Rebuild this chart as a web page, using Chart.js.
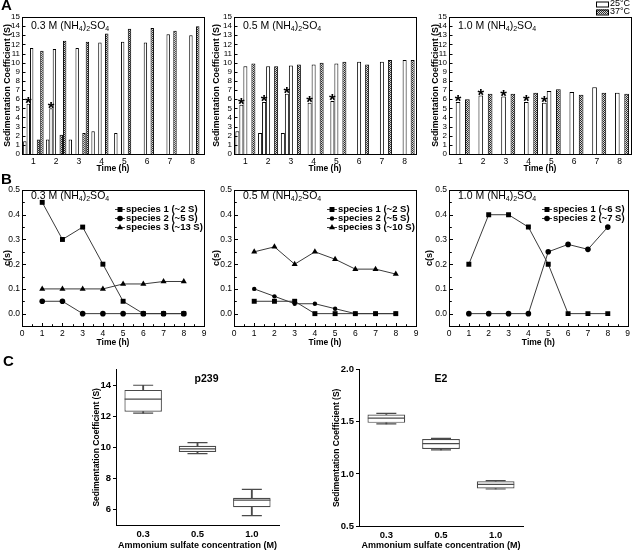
<!DOCTYPE html>
<html>
<head>
<meta charset="utf-8">
<title>Sedimentation coefficients</title>
<script src="https://cdn.jsdelivr.net/npm/chart.js@4.4.1/dist/chart.umd.min.js"></script>
<style>
html,body{margin:0;padding:0;background:#fff;}
#fig{position:relative;width:633px;height:552px;overflow:hidden;background:#fff;}
#fig canvas{position:absolute;}
</style>
</head>
<body>
<div id="fig">
<canvas id="a1"></canvas><canvas id="a2"></canvas><canvas id="a3"></canvas>
<canvas id="b1"></canvas><canvas id="b2"></canvas><canvas id="b3"></canvas>
<canvas id="c1"></canvas><canvas id="c2"></canvas>
</div>
<script>
// ================= DATA =================
const hours = [1, 2, 3, 4, 5, 6, 7, 8];
const concentrations = ['0.3', '0.5', '1.0'];
const tempLabels = ['25°C', '37°C'];

// Panel A, 0.3 M (bar columns, left to right inside each hour)
const a03_25C_p1 = [1.4, 1.6, 1.6, 2.5, 2.3, null, null, null];
const a03_25C_p2 = [5.5, 5.0, null, null, null, null, null, null];
const a03_25C_p3 = [11.6, 11.5, 11.6, 12.2, 12.3, 12.2, 13.1, 13.0];
const a03_37C_p0 = [null, null, null, null, null, null, null, null];
const a03_37C_p1 = [1.6, 2.1, 2.3, 13.2, 13.7, 13.8, 13.5, 14.0];
const a03_37C_p2 = [11.3, 12.4, 12.3, null, null, null, null, null];
const a03_star_p2 = [1, 1, 0, 0, 0, 0, 0, 0];

// Panel A, 0.5 M
const a05_25C_p1 = [2.5, 2.3, 2.3, null, null, null, null, null];
const a05_25C_p2 = [5.4, 5.7, 6.6, 5.6, 5.8, null, null, null];
const a05_25C_p3 = [9.6, 9.6, 9.7, 9.8, 9.9, 10.1, 10.1, 10.3];
const a05_37C_p0 = [null, null, null, null, null, null, null, null];
const a05_37C_p1 = [9.9, 9.6, 9.8, 10.0, 10.1, 9.8, 10.3, 10.3];
const a05_star_p2 = [1, 1, 1, 1, 1, 0, 0, 0];

// Panel A, 1.0 M
const a10_25C_p1 = [null, null, null, null, 5.6, null, null, null];
const a10_25C_p2 = [5.7, 6.4, 6.3, 5.7, 6.9, 6.8, 7.3, 6.7];
const a10_37C_p0 = [null, null, null, null, null, null, null, null];
const a10_37C_p1 = [6.0, 6.6, 6.6, 6.7, 7.1, 6.5, 6.7, 6.6];
const a10_star_p1 = [0, 0, 0, 0, 1, 0, 0, 0];
const a10_star_p2 = [1, 1, 1, 1, 0, 0, 0, 0];

// Panel B, c(s) of each species
const bTicksX = [0, 1, 2, 3, 4, 5, 6, 7, 8, 9];
const bTicksY = [0, 0.1, 0.2, 0.3, 0.4, 0.5];
const b03_s1 = [0.45, 0.30, 0.35, 0.20, 0.05, 0, 0, 0];
const b03_s2 = [0.05, 0.05, 0, 0, 0, 0, 0, 0];
const b03_s3 = [0.10, 0.10, 0.10, 0.10, 0.12, 0.12, 0.13, 0.13];
const b03_names = ['species 1 (~2 S)', 'species 2 (~5 S)', 'species 3 (~13 S)'];

const b05_s1 = [0.05, 0.05, 0.05, 0, 0, 0, 0, 0];
const b05_s2 = [0.10, 0.07, 0.04, 0.04, 0.02, 0, 0, 0];
const b05_s3 = [0.25, 0.27, 0.20, 0.25, 0.22, 0.18, 0.18, 0.16];
const b05_names = ['species 1 (~2 S)', 'species 2 (~5 S)', 'species 3 (~10 S)'];

const b10_s1 = [0.20, 0.40, 0.40, 0.35, 0.20, 0, 0, 0];
const b10_s2 = [0, 0, 0, 0, 0.25, 0.28, 0.26, 0.35];
const b10_names = ['species 1 (~6 S)', 'species 2 (~7 S)'];

// Panel C, box plots
const p239_min = [12.2, 9.6, 5.6];
const p239_q1  = [12.3, 9.7, 6.15];
const p239_med = [13.1, 9.9, 6.6];
const p239_q3  = [13.7, 10.1, 6.75];
const p239_max = [14.0, 10.3, 7.3];
const p239_ticks = [6, 8, 10, 12, 14];

const e2_min = [1.48, 1.23, 0.855];
const e2_q1  = [1.49, 1.24, 0.86];
const e2_med = [1.535, 1.29, 0.90];
const e2_q3  = [1.57, 1.335, 0.93];
const e2_max = [1.58, 1.34, 0.935];
const e2_ticks = [0.5, 1.0, 1.5, 2.0];

// ================= HELPERS =================
const FONT = "'Liberation Sans', Arial, Helvetica, sans-serif";
Chart.defaults.font.family = FONT;
Chart.defaults.color = '#000';
Chart.defaults.animation = false;
Chart.defaults.events = [];
let UID = 0;

function makeHatch() {
  const p = document.createElement('canvas');
  p.width = 2; p.height = 2;
  const g = p.getContext('2d');
  g.fillStyle = '#d8d8d8'; g.fillRect(0, 0, 2, 2);
  g.fillStyle = '#2a2a2a';
  g.fillRect(0, 0, 1, 1); g.fillRect(1, 1, 1, 1);
  return g.createPattern(p, 'repeat');
}
const HATCH = makeHatch();

function place(id, box) {
  const c = document.getElementById(id);
  c.width = box.w; c.height = box.h;
  Object.assign(c.style, {left: box.l + 'px', top: box.t + 'px', width: box.w + 'px', height: box.h + 'px'});
  return c;
}
function fixedLayout(box, area) {
  return {
    padding: {left: 0, top: area.t - box.t, right: box.l + box.w - area.r, bottom: 0},
    yWidth: area.l - box.l,
    xHeight: box.t + box.h - area.b
  };
}

const framePlugin = {
  id: 'frame',
  afterDatasetsDraw(chart) {
    const {ctx, chartArea: a} = chart;
    ctx.save();
    ctx.strokeStyle = '#000'; ctx.lineWidth = 1;
    ctx.strokeRect(Math.round(a.left) + 0.5, Math.round(a.top) + 0.5,
                   Math.round(a.right - a.left), Math.round(a.bottom - a.top));
    ctx.restore();
  }
};

function inTicksPlugin(cfg) {
  return { id: 'inticks' + (UID++), afterDatasetsDraw(chart) {
    const {ctx, chartArea: a} = chart;
    ctx.save(); ctx.strokeStyle = '#000'; ctx.lineWidth = 1; ctx.beginPath();
    for (const axis of ['x', 'y']) {
      const c = cfg[axis]; if (!c) continue;
      const s = chart.scales[axis];
      const vals = s.ticks.map(t => t.value);
      const marks = vals.map(v => [v, c.len]);
      if (c.minor) for (let i = 0; i < vals.length - 1; i++) marks.push([(vals[i] + vals[i + 1]) / 2, c.len * 0.6]);
      for (const [v, len] of marks) {
        const p = Math.round(s.getPixelForValue(v)) + 0.5;
        if (axis === 'x') { ctx.moveTo(p, a.bottom); ctx.lineTo(p, a.bottom - len); }
        else { ctx.moveTo(a.left + 1, p); ctx.lineTo(a.left + 1 + len, p); }
      }
    }
    ctx.stroke(); ctx.restore();
  }};
}

function textPlugin(items) {
  return { id: 'texts' + (UID++), afterDraw(chart) {
    const ctx = chart.ctx; ctx.save();
    for (const it of items) {
      ctx.font = it.font; ctx.fillStyle = '#000';
      ctx.textAlign = it.align || 'left'; ctx.textBaseline = 'middle';
      ctx.fillText(it.text, it.x, it.y);
    }
    ctx.restore();
  }};
}

function formulaPlugin(conc, dx, dy) {
  return { id: 'formula' + (UID++), afterDraw(chart) {
    const {ctx, chartArea: a} = chart;
    const parts = [[conc + ' M (NH', 0], ['4', 1], [')', 0], ['2', 1], ['SO', 0], ['4', 1]];
    let x = a.left + dx; const y = a.top + dy;
    ctx.save(); ctx.fillStyle = '#000'; ctx.textAlign = 'left'; ctx.textBaseline = 'middle';
    for (const [t, sub] of parts) {
      ctx.font = (sub ? '7px ' : '10.5px ') + FONT;
      ctx.fillText(t, x, sub ? y + 3 : y);
      x += ctx.measureText(t).width;
    }
    ctx.restore();
  }};
}

const starPlugin = {
  id: 'stars',
  afterDatasetsDraw(chart) {
    const ctx = chart.ctx; ctx.save();
    ctx.font = 'bold 17px ' + FONT; ctx.textAlign = 'center'; ctx.textBaseline = 'middle'; ctx.fillStyle = '#000';
    chart.data.datasets.forEach((d, di) => {
      if (!d.stars) return;
      const meta = chart.getDatasetMeta(di);
      d.stars.forEach((f, i) => {
        if (!f) return;
        const el = meta.data[i];
        ctx.fillText('*', el.x, el.y + 0.5);
      });
    });
    ctx.restore();
  }
};

function tempLegendPlugin(x, y, rowH) {
  return { id: 'templeg' + (UID++), afterDraw(chart) {
    const ctx = chart.ctx; ctx.save();
    tempLabels.forEach((t, i) => {
      const yy = y + i * rowH;
      ctx.fillStyle = i ? HATCH : '#fff';
      ctx.fillRect(x, yy - 2.5, 12, 5);
      ctx.strokeStyle = '#000'; ctx.lineWidth = 1;
      ctx.strokeRect(x + 0.5, yy - 2.5 + 0.5, 12, 5);
      ctx.fillStyle = '#000'; ctx.font = '9px ' + FONT; ctx.textBaseline = 'middle'; ctx.textAlign = 'left';
      ctx.fillText(t, x + 14, yy);
    });
    ctx.restore();
  }};
}

function lineLegendPlugin(dx, dy, rowH) {
  return { id: 'lineleg' + (UID++), afterDraw(chart) {
    const {ctx, chartArea: a} = chart; ctx.save();
    chart.data.datasets.forEach((d, i) => {
      const x = a.left + dx, y = Math.round(a.top + dy + i * rowH) + 0.5;
      ctx.strokeStyle = d.borderColor; ctx.lineWidth = 1;
      ctx.beginPath(); ctx.moveTo(x, y); ctx.lineTo(x + 10, y); ctx.stroke();
      ctx.fillStyle = '#000';
      Chart.helpers.drawPoint(ctx, {pointStyle: d.pointStyle, radius: d.pointRadius, borderWidth: 0, rotation: 0}, x + 5, y);
      ctx.font = 'bold 9.5px ' + FONT; ctx.textBaseline = 'middle'; ctx.textAlign = 'left';
      ctx.fillText(d.label, x + 11, y);
    });
    ctx.restore();
  }};
}

// ================= PANEL A (bars) =================
function barPanel(id, box, area, cols, catPct, conc, yTitlePad, extra) {
  const L = fixedLayout(box, area);
  new Chart(place(id, box), {
    type: 'bar',
    data: {
      labels: hours,
      datasets: cols.map(c => ({
        label: c.label, data: c.values, stars: c.stars,
        backgroundColor: c.hatched ? HATCH : '#ffffff',
        borderColor: '#000', borderWidth: 1,
        barPercentage: 1, categoryPercentage: catPct
      }))
    },
    options: {
      responsive: false, animation: false,
      layout: {padding: L.padding},
      plugins: {legend: {display: false}, tooltip: {enabled: false}},
      scales: {
        x: {
          grid: {display: false, drawTicks: false}, border: {display: false},
          ticks: {font: {size: 8.5}, padding: 3, maxRotation: 0, autoSkip: false},
          title: {display: true, text: 'Time (h)', font: {size: 8.5, weight: 'bold'}, padding: {top: 0, bottom: 2}},
          afterFit(s) { s.height = L.xHeight; }
        },
        y: {
          min: 0, max: 15,
          grid: {display: false, drawTicks: false}, border: {display: false},
          ticks: {stepSize: 1, autoSkip: false, font: {size: 8}, padding: 2},
          title: {display: true, text: 'Sedimentation Coefficient (S)', font: {size: 8.8, weight: 'bold'}, padding: {top: yTitlePad, bottom: 0}},
          afterFit(s) { s.width = L.yWidth; }
        }
      }
    },
    plugins: [framePlugin, inTicksPlugin({y: {len: 2.5}}), starPlugin, formulaPlugin(conc, 9, 9)].concat(extra || [])
  });
}

const T25 = tempLabels[0], T37 = tempLabels[1];
barPanel('a1', {l: 0, t: 0, w: 212, h: 176}, {l: 22, t: 17, r: 204, b: 154}, [
  {label: T25, values: a03_25C_p1},
  {label: T25, values: a03_25C_p2, stars: a03_star_p2},
  {label: T25, values: a03_25C_p3},
  {label: T37, values: a03_37C_p0, hatched: true},
  {label: T37, values: a03_37C_p1, hatched: true},
  {label: T37, values: a03_37C_p2, hatched: true}
], 0.9, concentrations[0], 1.8, [textPlugin([{text: 'A', x: 1, y: 6, font: 'bold 15px ' + FONT}])]);

barPanel('a2', {l: 210, t: 0, w: 212, h: 176}, {l: 234, t: 17, r: 416, b: 154}, [
  {label: T25, values: a05_25C_p1},
  {label: T25, values: a05_25C_p2, stars: a05_star_p2},
  {label: T25, values: a05_25C_p3},
  {label: T37, values: a05_37C_p0, hatched: true},
  {label: T37, values: a05_37C_p1, hatched: true}
], 0.88, concentrations[1], 1.3);

barPanel('a3', {l: 420, t: 0, w: 213, h: 176}, {l: 449, t: 17, r: 631, b: 154}, [
  {label: T25, values: a10_25C_p1, stars: a10_star_p1},
  {label: T25, values: a10_25C_p2, stars: a10_star_p2},
  {label: T37, values: a10_37C_p0, hatched: true},
  {label: T37, values: a10_37C_p1, hatched: true}
], 0.82, concentrations[2], 10.5, [tempLegendPlugin(176, 4, 8)]);

// ================= PANEL B (lines) =================
function linePanel(id, box, area, series, conc, yTitlePad, extra) {
  const L = fixedLayout(box, area);
  new Chart(place(id, box), {
    type: 'line',
    data: {
      datasets: series.map(s => ({
        label: s.name,
        data: hours.map((h, i) => ({x: h, y: s.values[i]})),
        borderColor: '#3a3a3a', borderWidth: 1, tension: 0,
        pointStyle: s.marker, pointRadius: s.r,
        pointBackgroundColor: '#000', pointBorderColor: '#000', pointBorderWidth: 0
      }))
    },
    options: {
      responsive: false, animation: false,
      layout: {padding: L.padding},
      plugins: {legend: {display: false}, tooltip: {enabled: false}},
      scales: {
        x: {
          type: 'linear', min: 0, max: 9,
          afterBuildTicks(s) { s.ticks = bTicksX.map(v => ({value: v})); },
          grid: {display: false, drawTicks: false}, border: {display: false},
          ticks: {font: {size: 8.5}, padding: 3, maxRotation: 0, autoSkip: false},
          title: {display: true, text: 'Time (h)', font: {size: 8.5, weight: 'bold'}, padding: {top: 0, bottom: 2}},
          afterFit(s) { s.height = L.xHeight; }
        },
        y: {
          min: -0.05, max: 0.5,
          afterBuildTicks(s) { s.ticks = bTicksY.map(v => ({value: v})); },
          grid: {display: false, drawTicks: false}, border: {display: false},
          ticks: {font: {size: 8.5}, padding: 2, callback: v => v.toFixed(1)},
          title: {display: true, text: 'c(s)', font: {size: 9, weight: 'bold'}, padding: {top: yTitlePad, bottom: 0}},
          afterFit(s) { s.width = L.yWidth; }
        }
      }
    },
    plugins: [framePlugin, inTicksPlugin({x: {len: 3, minor: true}, y: {len: 3, minor: true}}),
              formulaPlugin(conc, 9, 6), lineLegendPlugin(93, 18.5, 9)].concat(extra || [])
  });
}

linePanel('b1', {l: 0, t: 170, w: 212, h: 180}, {l: 22, t: 190, r: 204, b: 326}, [
  {name: b03_names[0], values: b03_s1, marker: 'rect', r: 3.5},
  {name: b03_names[1], values: b03_s2, marker: 'circle', r: 2.8},
  {name: b03_names[2], values: b03_s3, marker: 'triangle', r: 3.5}
], concentrations[0], 1.8, [textPlugin([{text: 'B', x: 1, y: 10, font: 'bold 15px ' + FONT}])]);

linePanel('b2', {l: 210, t: 170, w: 212, h: 180}, {l: 234, t: 190, r: 416, b: 326}, [
  {name: b05_names[0], values: b05_s1, marker: 'rect', r: 3.5},
  {name: b05_names[1], values: b05_s2, marker: 'circle', r: 2.2},
  {name: b05_names[2], values: b05_s3, marker: 'triangle', r: 3.5}
], concentrations[1], 1.3);

linePanel('b3', {l: 420, t: 170, w: 213, h: 180}, {l: 449, t: 190, r: 631, b: 326}, [
  {name: b10_names[0], values: b10_s1, marker: 'rect', r: 3.5},
  {name: b10_names[1], values: b10_s2, marker: 'circle', r: 2.8}
], concentrations[2], 4.2);

// ================= PANEL C (box plots) =================
function boxPanel(id, box, area, st, yMin, yMax, yTicks, fmt, title, titleDx, yTitlePad, extra) {
  const L = fixedLayout(box, area);
  const stroke = '#4a4a4a';
  new Chart(place(id, box), {
    type: 'bar',
    data: {
      labels: concentrations,
      datasets: [
        {type: 'line', data: st.med, showLine: false, pointStyle: 'line', pointRadius: 18.5,
         borderColor: stroke, pointBorderColor: stroke, pointBorderWidth: 1.2, order: 0},
        {type: 'line', data: st.max, showLine: false, pointStyle: 'line', pointRadius: 10,
         borderColor: stroke, pointBorderColor: stroke, pointBorderWidth: 1.2, order: 0},
        {type: 'line', data: st.min, showLine: false, pointStyle: 'line', pointRadius: 10,
         borderColor: stroke, pointBorderColor: stroke, pointBorderWidth: 1.2, order: 0},
        {data: st.q1.map((v, i) => [v, st.q3[i]]), backgroundColor: '#fff', borderColor: stroke,
         borderWidth: 1.2, borderSkipped: false, grouped: false, barPercentage: 0.69, categoryPercentage: 1, order: 1},
        {data: st.min.map((v, i) => [v, st.q1[i]]), backgroundColor: stroke, borderWidth: 0,
         grouped: false, barThickness: 1.2, order: 2},
        {data: st.q3.map((v, i) => [v, st.max[i]]), backgroundColor: stroke, borderWidth: 0,
         grouped: false, barThickness: 1.2, order: 2}
      ]
    },
    options: {
      responsive: false, animation: false,
      layout: {padding: L.padding},
      plugins: {legend: {display: false}, tooltip: {enabled: false}},
      scales: {
        x: {
          grid: {display: false, drawTicks: false}, border: {display: true, color: '#000', width: 1},
          ticks: {font: {size: 9.5, weight: 'bold'}, padding: 3.5, maxRotation: 0},
          title: {display: true, text: 'Ammonium sulfate concentration (M)', font: {size: 9, weight: 'bold'}, padding: {top: 0, bottom: 1}},
          afterFit(s) { s.height = L.xHeight; }
        },
        y: {
          min: yMin, max: yMax,
          afterBuildTicks(s) { s.ticks = yTicks.map(v => ({value: v})); },
          grid: {display: true, drawOnChartArea: false, drawTicks: true, tickLength: 3, color: '#000'},
          border: {display: true, color: '#000', width: 1},
          ticks: {font: {size: 9.5, weight: 'bold'}, padding: 2, callback: fmt},
          title: {display: true, text: 'Sedimentation Coefficient (S)', font: {size: 8.5, weight: 'bold'}, padding: {top: yTitlePad, bottom: 0}},
          afterFit(s) { s.width = L.yWidth; }
        }
      }
    },
    plugins: [{ id: 'ctitle' + (UID++), afterDraw(chart) {
      const {ctx, chartArea: a} = chart; ctx.save();
      ctx.font = 'bold 10.5px ' + FONT; ctx.fillStyle = '#000'; ctx.textAlign = 'center'; ctx.textBaseline = 'middle';
      ctx.fillText(title, (a.left + a.right) / 2 + titleDx, a.top + 9.5);
      ctx.restore();
    }}].concat(extra || [])
  });
}

boxPanel('c1', {l: 0, t: 350, w: 300, h: 202}, {l: 116, t: 360, r: 279, b: 525},
  {min: p239_min, q1: p239_q1, med: p239_med, q3: p239_q3, max: p239_max},
  5, 15, p239_ticks, v => String(v), 'p239', 9, 91.5,
  [textPlugin([{text: 'C', x: 3, y: 12, font: 'bold 15px ' + FONT}])]);

boxPanel('c2', {l: 300, t: 350, w: 333, h: 202}, {l: 359, t: 361, r: 523, b: 526},
  {min: e2_min, q1: e2_q1, med: e2_med, q3: e2_q3, max: e2_max},
  0.5, 2.0, e2_ticks, v => v.toFixed(1), 'E2', 0, 31.5);
</script>
</body>
</html>
